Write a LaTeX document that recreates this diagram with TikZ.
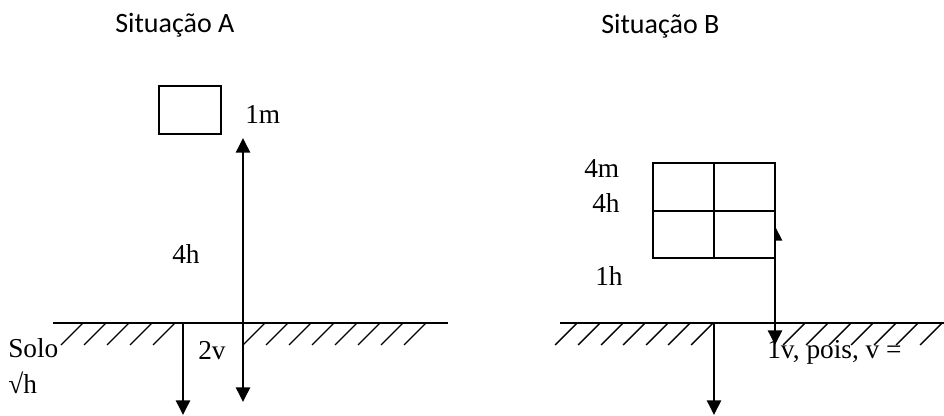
\documentclass[tikz,border=0pt]{standalone}
\usepackage{fontspec}
\setmainfont{Liberation Serif}
\newfontfamily\titlefont{Carlito}
\usetikzlibrary{arrows.meta}
\begin{document}
\begin{tikzpicture}[x=0.75pt,y=-0.75pt,
  lbl/.style={anchor=base west,inner sep=0pt,font=\fontsize{20.5}{23}\selectfont},
  ttl/.style={anchor=base west,inner sep=0pt,font=\titlefont\fontsize{21}{24}\selectfont},
  ground/.style={line width=1.3pt},
  hatch/.style={line width=1.05pt},
  vec/.style={line width=1.9pt,-{Triangle[length=11pt,width=10.5pt]}},
  dvec/.style={line width=1.9pt,{Triangle[length=11pt,width=10.5pt]}-{Triangle[length=11pt,width=10.5pt]}},
  boxline/.style={line width=1.4pt}]
\useasboundingbox (0,0) rectangle (944,416);
% titles
\node[ttl] (tA) at (115,33) {Situação A};
\node[ttl] (tB) at (601,34) {Situação B};
% ---- Situation A ----
\node[boxline,draw,minimum width=46.5pt,minimum height=36pt,inner sep=0pt] (boxA) at (190,110) {};
\coordinate (aTop) at (243,138);
\coordinate (aBot) at (243,402);
\draw[dvec] (aTop) -- (aBot);
\coordinate (gA1) at (53,323);
\coordinate (gA2) at (448,323);
\draw[ground] (gA1) -- (gA2);
\foreach \t in {83,106,129,152,175,265,288,311,334,357,380,403,426}
  \draw[hatch] (\t,323) -- ++(-22,22);
\coordinate (dA0) at (183,323);
\coordinate (dA1) at (183,415);
\draw[vec] (dA0) -- (dA1);
\node[lbl] (m1) at (245,124) {1m};
\node[lbl] (h4A) at (172,263) {4h};
\node[lbl] (solo) at (8,357) {Solo};
\node[lbl] (sqh) at (8,393) {√h};
\node[lbl] (v2) at (198,359) {2v};
% ---- Situation B ----
\coordinate (bTop) at (775,226);
\coordinate (bBot) at (775,345);
\draw[dvec] (bTop) -- (bBot);
\draw[boxline,fill=white] (653,163) rectangle (775,258);
\coordinate (bm1) at (714,163);
\coordinate (bm2) at (714,258);
\coordinate (bm3) at (653,211);
\coordinate (bm4) at (775,211);
\draw[boxline] (bm1) -- (bm2);
\draw[boxline] (bm3) -- (bm4);
\coordinate (gB1) at (560,323);
\coordinate (gB2) at (944,323);
\draw[ground] (gB1) -- (gB2);
\foreach \t in {577,600,623,645,668,690,713,805,828,851,873,896,918,942}
  \draw[hatch] (\t,323) -- ++(-22,22);
\coordinate (dB0) at (714,323);
\coordinate (dB1) at (714,415);
\draw[vec] (dB0) -- (dB1);
\node[lbl] (m4) at (584,178) {4m};
\node[lbl] (h4B) at (592,213) {4h};
\node[lbl] (h1) at (595,286) {1h};
\node[lbl] (v1) at (767,358) {1v, pois, v =};
\end{tikzpicture}
\end{document}
